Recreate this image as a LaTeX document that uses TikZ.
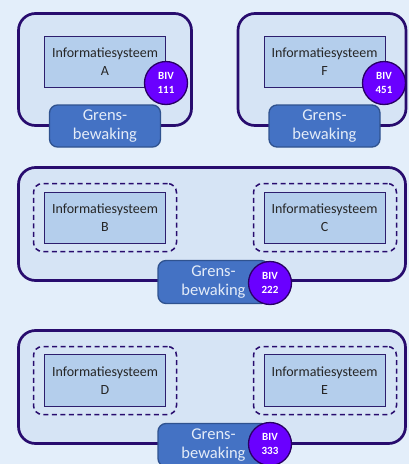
\documentclass[tikz,border=0pt]{standalone}
\usepackage{fontspec}
\setmainfont{Carlito}
\definecolor{bg}{RGB}{227,238,250}
\definecolor{zonefill}{RGB}{214,228,245}
\definecolor{sysfill}{RGB}{180,206,236}
\definecolor{edge}{RGB}{40,12,110}
\definecolor{sysedge}{RGB}{45,30,110}
\definecolor{guardfill}{RGB}{68,114,196}
\definecolor{guardedge}{RGB}{47,82,143}
\definecolor{guardtext}{RGB}{228,236,248}
\definecolor{bivfill}{RGB}{106,0,255}
\definecolor{bivedge}{RGB}{40,0,100}
\begin{document}
\begin{tikzpicture}[x=1pt,y=-1pt,
  zone/.style={draw=edge, line width=2.7pt, fill=zonefill, rounded corners=17pt, inner sep=0pt},
  segment/.style={draw=edge, line width=1.5pt, dash pattern=on 5pt off 3.5pt, rounded corners=9pt, inner sep=0pt, minimum width=143pt, minimum height=68pt},
  sys/.style={draw=sysedge, line width=1pt, fill=sysfill, minimum width=121pt, minimum height=51pt, inner sep=0pt, align=center, text=black!85, font=\fontsize{14}{18}\selectfont},
  guard/.style={draw=guardedge, fill=guardfill, line width=1.3pt, rounded corners=8pt, minimum width=111pt, minimum height=42pt, inner sep=0pt, align=center, text=guardtext, font=\fontsize{16.5}{19}\selectfont},
  biv/.style={circle, draw=bivedge, fill=bivfill, line width=1.3pt, minimum size=43pt, inner sep=0pt, align=center, text=white, font=\fontsize{11}{14}\selectfont\bfseries}]
\useasboundingbox (0,0) rectangle (409,464);
\fill[bg] (0,0) rectangle (409,464);
\clip (0,0) rectangle (409,464);

% --- system A ---
\node[zone, minimum width=173pt, minimum height=112pt] (zoneA) at (105,69.5) {};
\node[sys] (sysA) at (105,62) {Informatiesysteem\\A};
\node[guard] (guardA) at (105,126) {Grens-\\bewaking};
\node[biv] (bivA) at (166,83) {BIV\\111};

% --- system F ---
\node[zone, minimum width=168pt, minimum height=112pt] (zoneF) at (322,69.5) {};
\node[sys] (sysF) at (324.5,62) {Informatiesysteem\\F};
\node[guard] (guardF) at (324.5,126) {Grens-\\bewaking};
\node[biv] (bivF) at (384,83) {BIV\\451};

% --- systems B and C ---
\node[zone, minimum width=387pt, minimum height=113pt] (zoneBC) at (212,224) {};
\node[segment] (segB) at (105,217.5) {};
\node[segment] (segC) at (325,217.5) {};
\node[sys] (sysB) at (105,217.5) {Informatiesysteem\\B};
\node[sys] (sysC) at (324.5,217.5) {Informatiesysteem\\C};
\node[guard, minimum height=43pt] (guardBC) at (213.5,282) {Grens-\\bewaking};
\node[biv] (bivBC) at (270,283) {BIV\\222};

% --- systems D and E ---
\node[zone, minimum width=387pt, minimum height=113pt] (zoneDE) at (212,387) {};
\node[segment] (segD) at (105,380.5) {};
\node[segment] (segE) at (325,380.5) {};
\node[sys, minimum height=52pt] (sysD) at (105,380.5) {Informatiesysteem\\D};
\node[sys, minimum height=52pt] (sysE) at (324.5,380.5) {Informatiesysteem\\E};
\node[guard, minimum height=43pt] (guardDE) at (213.5,445) {Grens-\\bewaking};
\node[biv] (bivDE) at (270,444) {BIV\\333};
\end{tikzpicture}
\end{document}
